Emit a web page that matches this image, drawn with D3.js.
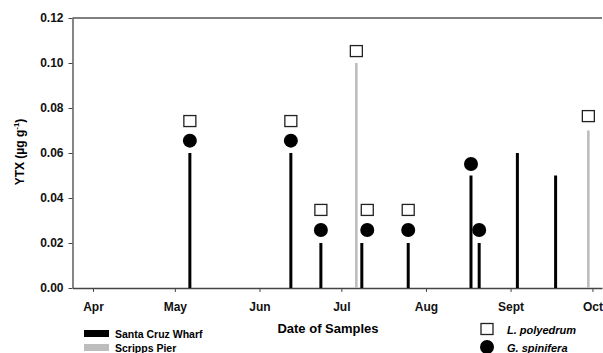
<!DOCTYPE html>
<html>
<head>
<meta charset="utf-8">
<script src="https://cdn.jsdelivr.net/npm/d3@7"></script>
<style>
  body { margin: 0; background: #fff; }
  svg { display: block; font-family: Arial, 'Liberation Sans', sans-serif; }
  .axis path, .axis line { stroke: #444; }
  .axis text { font-size: 12px; font-weight: bold; fill: #111; }
</style>
</head>
<body>
<div id="chart"></div>
<script>
// sample dates (toxin bars), YTX in ug/g
const wharfDates = ['2007-05-06', '2007-06-12', '2007-06-23', '2007-07-08', '2007-07-25',
                    '2007-08-17', '2007-08-20', '2007-09-03', '2007-09-17'];
const wharfYtx = [0.06, 0.06, 0.02, 0.02, 0.02, 0.05, 0.02, 0.06, 0.05];

const pierDates = ['2007-07-06', '2007-09-29'];
const pierYtx = [0.10, 0.07];

// species markers (drawn just above the bars)
const polyDates = ['2007-05-06', '2007-06-12', '2007-06-23', '2007-07-06', '2007-07-10', '2007-07-25', '2007-09-29'];
const polyY = [0.0742, 0.0742, 0.0347, 0.1053, 0.0347, 0.0347, 0.0764];

const spinDates = ['2007-05-06', '2007-06-12', '2007-06-23', '2007-07-10', '2007-07-25', '2007-08-17', '2007-08-20'];
const spinY = [0.0655, 0.0655, 0.0258, 0.0258, 0.0258, 0.0551, 0.0258];

const monthTicks = ['2007-04-01', '2007-05-01', '2007-06-01', '2007-07-01', '2007-08-01', '2007-09-01', '2007-10-01'];
const monthLabels = ['Apr', 'May', 'Jun', 'Jul', 'Aug', 'Sept', 'Oct'];
const yTicks = [0, 0.02, 0.04, 0.06, 0.08, 0.10, 0.12];

const width = 603;
const height = 353;
const mLeft = 72.5, mRight = 602, mTop = 18, mBottom = 288;

const parse = d3.timeParse('%Y-%m-%d');
// samples sit in the middle of their day
const noon = s => d3.timeHour.offset(parse(s), 12);

const svg = d3.select('#chart')
  .append('svg')
  .attr('width', width)
  .attr('height', height);

const x = d3.scaleTime()
  .domain([noon('2007-03-24'), noon('2007-10-04')])
  .range([mLeft, mRight]);

const y = d3.scaleLinear()
  .domain([0, 0.12])
  .range([mBottom, mTop]);

// axes
const xAxis = d3.axisBottom(x)
  .tickValues(monthTicks.map(parse))
  .tickFormat((d, i) => monthLabels[i])
  .tickSize(4)
  .tickPadding(10)
  .tickSizeOuter(0);

const yAxis = d3.axisLeft(y)
  .tickValues(yTicks)
  .tickFormat(d3.format('.2f'))
  .tickSize(4)
  .tickPadding(5)
  .tickSizeOuter(0);

svg.append('g')
  .attr('class', 'axis')
  .attr('transform', `translate(0,${mBottom})`)
  .call(xAxis);

svg.append('g')
  .attr('class', 'axis')
  .attr('transform', `translate(${mLeft},0)`)
  .call(yAxis);

svg.selectAll('.axis .domain').attr('stroke-width', 1.3);

// top frame line
svg.append('line')
  .attr('x1', mLeft).attr('x2', mRight)
  .attr('y1', y(0.12)).attr('y2', y(0.12))
  .attr('stroke', '#555')
  .attr('stroke-width', 1.5);

// bars
const wharf = wharfDates.map((d, i) => ({ date: noon(d), v: wharfYtx[i] }));
const pier = pierDates.map((d, i) => ({ date: noon(d), v: pierYtx[i] }));

svg.append('g').selectAll('line')
  .data(pier)
  .enter().append('line')
  .attr('x1', d => x(d.date)).attr('x2', d => x(d.date))
  .attr('y1', y(0)).attr('y2', d => y(d.v))
  .attr('stroke', '#bdbdbd')
  .attr('stroke-width', 2.6);

svg.append('g').selectAll('line')
  .data(wharf)
  .enter().append('line')
  .attr('x1', d => x(d.date)).attr('x2', d => x(d.date))
  .attr('y1', y(0)).attr('y2', d => y(d.v))
  .attr('stroke', '#000')
  .attr('stroke-width', 3);

// markers
const sq = 12;
svg.append('g').selectAll('rect')
  .data(polyDates.map((d, i) => ({ date: noon(d), v: polyY[i] })))
  .enter().append('rect')
  .attr('x', d => x(d.date) - sq / 2)
  .attr('y', d => y(d.v) - sq / 2 + 0.5)
  .attr('width', sq)
  .attr('height', sq - 1)
  .attr('fill', '#fff')
  .attr('stroke', '#222')
  .attr('stroke-width', 1.3);

svg.append('g').selectAll('circle')
  .data(spinDates.map((d, i) => ({ date: noon(d), v: spinY[i] })))
  .enter().append('circle')
  .attr('cx', d => x(d.date))
  .attr('cy', d => y(d.v))
  .attr('r', 7)
  .attr('fill', '#000');

// axis titles
svg.append('text')
  .attr('x', 328)
  .attr('y', 333)
  .attr('text-anchor', 'middle')
  .attr('font-size', 13)
  .attr('font-weight', 'bold')
  .text('Date of Samples');

const yl = svg.append('text')
  .attr('transform', 'translate(24,152) rotate(-90)')
  .attr('text-anchor', 'middle')
  .attr('font-size', 12)
  .attr('font-weight', 'bold');
yl.append('tspan').text('YTX (µg g');
yl.append('tspan').attr('font-size', 8).attr('dy', -5).text('-1');
yl.append('tspan').attr('dy', 5).text(')');

// legends
const siteLabels = ['Santa Cruz Wharf', 'Scripps Pier'];
const siteColors = ['#000', '#bdbdbd'];
const siteLeg = svg.append('g').selectAll('g')
  .data(siteLabels)
  .enter().append('g')
  .attr('transform', (d, i) => `translate(84,${330 + i * 14})`);
siteLeg.append('rect')
  .attr('width', 25).attr('height', 7)
  .attr('fill', (d, i) => siteColors[i]);
siteLeg.append('text')
  .attr('x', 31).attr('y', 8)
  .attr('font-size', 10.5)
  .attr('font-weight', 'bold')
  .text(d => d);

const speciesLabels = ['L. polyedrum', 'G. spinifera'];
const spLeg = svg.append('g').selectAll('g')
  .data(speciesLabels)
  .enter().append('g')
  .attr('transform', (d, i) => `translate(487,${329 + i * 18})`);
spLeg.filter((d, i) => i === 0).append('rect')
  .attr('x', -6).attr('y', -5.5).attr('width', 12).attr('height', 11)
  .attr('fill', '#fff').attr('stroke', '#222').attr('stroke-width', 1.3);
spLeg.filter((d, i) => i === 1).append('circle')
  .attr('r', 7).attr('fill', '#000');
spLeg.append('text')
  .attr('x', 20).attr('y', 5)
  .attr('font-size', 11)
  .attr('font-weight', 'bold')
  .attr('font-style', 'italic')
  .text(d => d);
</script>
</body>
</html>
